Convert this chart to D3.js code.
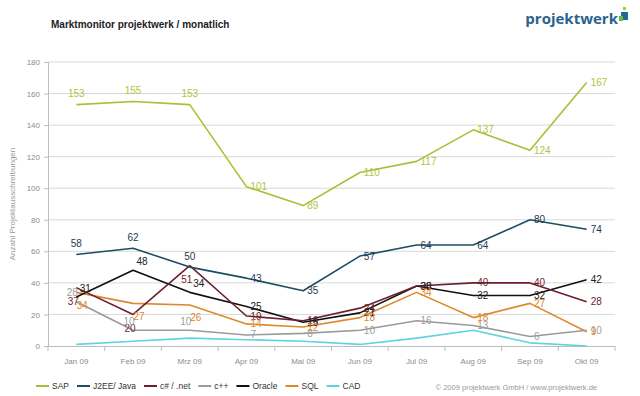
<!DOCTYPE html>
<html>
<head>
  <meta charset="utf-8">
  <title>Marktmonitor</title>
  <style>
    body { margin: 0; background: #fff; }
    text { font-family: "Liberation Sans", Arial, sans-serif; }
  </style>
</head>
<body>
  <svg id="chart"></svg>

  <script src="https://cdn.jsdelivr.net/npm/d3@7"></script>
  <script>
    // values
    const months = ["Jan 09", "Feb 09", "Mrz 09", "Apr 09", "Mai 09", "Jun 09", "Jul 09", "Aug 09", "Sep 09", "Okt 09"];
    const seriesNames = ["SAP", "J2EE/ Java", "c# / .net", "c++", "Oracle", "SQL", "CAD"];
    const sap    = [153, 155, 153, 101, 89, 110, 117, 137, 124, 167];
    const java   = [58, 62, 50, 43, 35, 57, 64, 64, 80, 74];
    const csharp = [37, 20, 51, 19, 16, 24, 38, 40, 40, 28];
    const cpp    = [28, 10, 10, 7, 8, 10, 16, 13, 6, 10];
    const oracle = [31, 48, 34, 25, 15, 21, 38, 32, 32, 42];
    const sql    = [34, 27, 26, 14, 12, 18, 34, 18, 27, 9];
    const cad    = [1, 3, 5, 4, 3, 1, 5, 10, 2, 0];
    const yTicks = [0, 20, 40, 60, 80, 100, 120, 140, 160, 180];

    const values = [sap, java, csharp, cpp, oracle, sql, cad];
    const colors = ["#a9bf35", "#1d4d63", "#6e1f2e", "#9a9a9a", "#111111", "#e0882c", "#5fd3df"];
    const labelColors = ["#b2c43f", "#1f3a55", "#6e1f2e", "#a0a0a0", "#222222", "#e0882c", null];
    // label nudge (dx, dy) for the first three months, per series
    const earlyNudge = [[0, -11], [0, -11], [-3, 14], [-4, -9], [9, -9], [6, 13], null];

    const width = 640, height = 396;
    const margin = { top: 62, right: 25, bottom: 50, left: 48 };

    const svg = d3.select("#chart").attr("width", width).attr("height", height);

    svg.append("text")
      .attr("x", 51).attr("y", 28)
      .attr("font-size", 10).attr("font-weight", "bold").attr("fill", "#222")
      .text("Marktmonitor projektwerk / monatlich");

    // logo
    const logo = svg.append("g");
    logo.append("text")
      .attr("x", 618).attr("y", 24).attr("text-anchor", "end")
      .attr("font-size", 15).attr("font-weight", "bold").attr("fill", "#2a628e")
      .style("font-family", "'Open Sans', sans-serif")
      .text("projektwerk");
    logo.append("rect").attr("x", 623).attr("y", 7).attr("width", 3).attr("height", 3).attr("fill", "#9fcf3a");
    logo.append("rect").attr("x", 621).attr("y", 12).attr("width", 7).attr("height", 8).attr("fill", "#1f6a93");
    logo.append("rect").attr("x", 619).attr("y", 16).attr("width", 4).attr("height", 5).attr("fill", "#6fb640");

    const x = d3.scaleBand().domain(months).range([margin.left, width - margin.right]);
    const y = d3.scaleLinear().domain([0, 180]).range([height - margin.bottom, margin.top]);

    // grid
    svg.append("g")
      .selectAll("line")
      .data(yTicks.filter(d => d > 0))
      .join("line")
      .attr("x1", margin.left).attr("x2", width - margin.right)
      .attr("y1", d => y(d)).attr("y2", d => y(d))
      .attr("stroke", "#d9d9d9").attr("stroke-width", 1);

    // y axis
    const yAxis = svg.append("g")
      .attr("transform", `translate(${margin.left},0)`)
      .call(d3.axisLeft(y).tickValues(yTicks).tickSize(4).tickPadding(4));
    yAxis.select(".domain").attr("stroke", "#bdbdbd");
    yAxis.selectAll(".tick line").attr("stroke", "#bdbdbd");
    yAxis.selectAll(".tick text").attr("fill", "#8c8c8c").attr("font-size", 8)
      .style("font-family", "'Liberation Sans', sans-serif");

    // x axis, ticks between the months
    const xAxis = svg.append("g")
      .attr("transform", `translate(0,${height - margin.bottom})`)
      .call(d3.axisBottom(x).tickSize(0).tickPadding(12));
    xAxis.select(".domain").attr("stroke", "#bdbdbd");
    xAxis.selectAll(".tick text").attr("fill", "#8c8c8c").attr("font-size", 8)
      .style("font-family", "'Liberation Sans', sans-serif");
    xAxis.selectAll("line.sep")
      .data(months.concat([null]))
      .join("line")
      .attr("class", "sep")
      .attr("x1", (d, i) => margin.left + i * x.step())
      .attr("x2", (d, i) => margin.left + i * x.step())
      .attr("y1", 0).attr("y2", 5)
      .attr("stroke", "#bdbdbd");

    svg.append("text")
      .attr("transform", `translate(15,${y(90)}) rotate(-90)`)
      .attr("text-anchor", "middle")
      .attr("font-size", 8).attr("fill", "#999")
      .text("Anzahl Projektausschreibungen");

    const line = d3.line()
      .x((d, i) => x(months[i]) + x.bandwidth() / 2)
      .y(d => y(d));

    // bottom series first so SAP ends on top
    const order = [6, 5, 4, 3, 2, 1, 0];
    svg.append("g")
      .selectAll("path")
      .data(order)
      .join("path")
      .attr("d", k => line(values[k]))
      .attr("fill", "none")
      .attr("stroke", k => colors[k])
      .attr("stroke-width", 1.6)
      .attr("stroke-linejoin", "round");

    // value labels
    const labels = svg.append("g").attr("font-size", 10)
      .style("font-family", "'Open Sans', sans-serif");
    values.forEach((vals, k) => {
      if (!labelColors[k]) return;
      labels.selectAll(null)
        .data(vals)
        .join("text")
        .attr("fill", labelColors[k])
        .attr("x", (d, i) => x(months[i]) + x.bandwidth() / 2 + (i < 3 ? earlyNudge[k][0] : 4))
        .attr("y", (d, i) => y(d) + (i < 3 ? earlyNudge[k][1] : 0))
        .attr("dy", "0.35em")
        .attr("text-anchor", (d, i) => i < 3 ? "middle" : "start")
        .text(d => d);
    });

    // legend
    const legend = svg.append("g").attr("transform", "translate(36,386)");
    let lx = 0;
    seriesNames.forEach((name, k) => {
      legend.append("line")
        .attr("x1", lx).attr("x2", lx + 13).attr("y1", 0).attr("y2", 0)
        .attr("stroke", colors[k]).attr("stroke-width", 2);
      const t = legend.append("text")
        .attr("x", lx + 16).attr("y", 3)
        .attr("font-size", 8.5).attr("fill", "#333")
        .text(name);
      lx += 16 + t.node().getComputedTextLength() + 8;
    });

    svg.append("text")
      .attr("x", 597).attr("y", 390).attr("text-anchor", "end")
      .attr("font-size", 7.5).attr("fill", "#999")
      .text("© 2009 projektwerk GmbH / www.projektwerk.de");
  </script>
</body>
</html>
